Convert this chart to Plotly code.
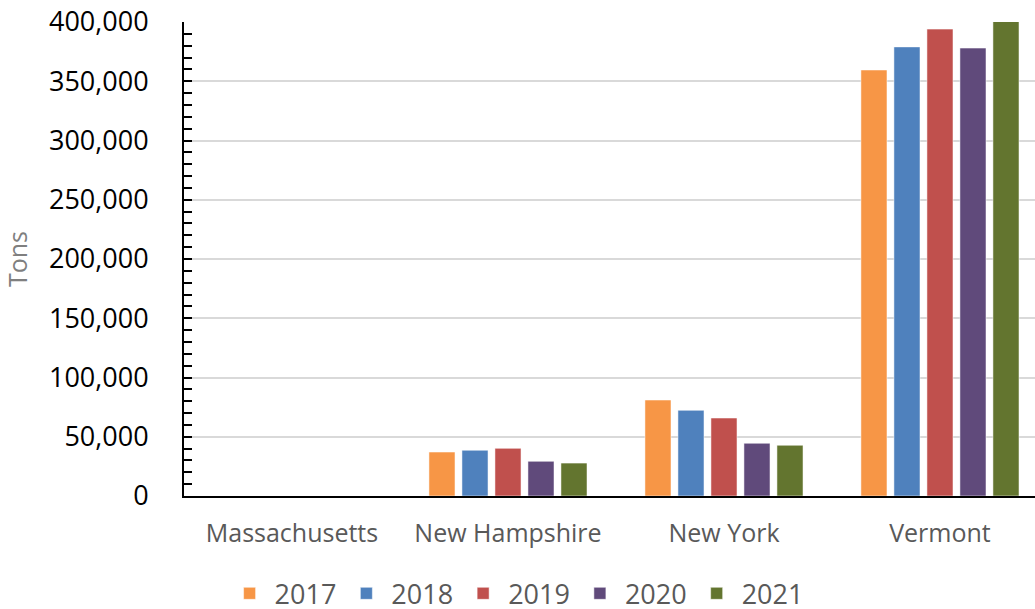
import plotly.graph_objects as go

states = ["Massachusetts", "New Hampshire", "New York", "Vermont"]
years = ["2017", "2018", "2019", "2020", "2021"]
v2017 = [0, 37100, 81000, 359500]
v2018 = [0, 38600, 72300, 379000]
v2019 = [0, 40200, 65800, 394000]
v2020 = [0, 29300, 44500, 378000]
v2021 = [0, 27800, 42800, 401000]
series = [v2017, v2018, v2019, v2020, v2021]
colors = ["#F79646", "#4F81BD", "#C0504D", "#604A7B", "#63752F"]
y_ticks = [0, 50000, 100000, 150000, 200000, 250000, 300000, 350000, 400000]

FONT = "Open Sans"

fig = go.Figure()
for yr, vals, c in zip(years, series, colors):
    fig.add_trace(go.Bar(
        name=yr, x=states, y=vals,
        marker=dict(color=c, line=dict(color="rgba(255,255,255,0.5)", width=1)),
    ))

fig.update_layout(
    width=1035, height=609,
    margin=dict(l=184, r=0, t=22, b=113, autoexpand=False),
    paper_bgcolor="white", plot_bgcolor="white",
    barmode="group", bargap=0.236, bargroupgap=0.21,
    font=dict(family=FONT, color="#595959"),
    showlegend=True,
    legend=dict(
        orientation="h", xref="container", yref="container",
        x=0.217, xanchor="left", y=0.025, yanchor="middle",
        font=dict(size=27, color="#595959", family=FONT),
        itemwidth=40, traceorder="normal",
    ),
)

fig.update_xaxes(
    range=[-0.5, 3.44], showgrid=False, showline=True,
    linecolor="black", linewidth=2, ticks="",
    tickfont=dict(size=25, color="#595959", family=FONT),
    ticklabelstandoff=14, fixedrange=True, automargin=False,
)
fig.update_yaxes(
    range=[0, 400000], tickvals=y_ticks, tickformat=",d",
    showgrid=True, gridcolor="#D9D9D9", gridwidth=2,
    showline=True, linecolor="black", linewidth=2,
    ticks="inside", ticklen=8, tickcolor="black", tickwidth=2,
    minor=dict(dtick=10000, ticks="inside", ticklen=8, tickcolor="black", tickwidth=2, showgrid=False),
    tickfont=dict(size=27, color="black", family=FONT),
    ticklabelstandoff=28,
    title=dict(text="Tons", font=dict(size=25, color="#7F7F7F", family=FONT), standoff=14),
    zeroline=False, fixedrange=True, automargin=False,
)

fig.write_html(
    "out.html",
    config={"displayModeBar": False},
    post_script="document.body.style.margin='0';document.body.style.overflow='hidden';",
)
